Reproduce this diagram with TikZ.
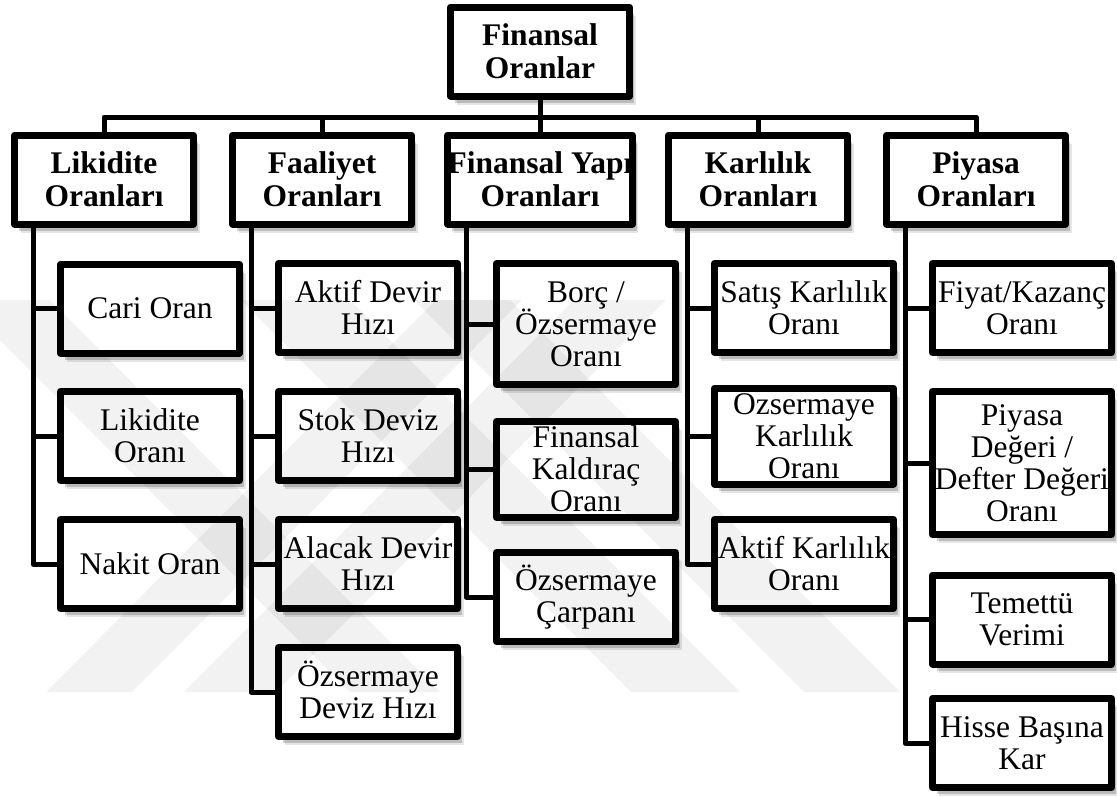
\documentclass[tikz,border=0pt]{standalone}
\usepackage{fontspec}
\setmainfont{Liberation Serif}
\usetikzlibrary{shadows}
% strut fixing the height and depth of the first and last text line
\newcommand{\lineStrut}{\rule[-6pt]{0pt}{32pt}}
\newcommand{\boxtext}[1]{\lineStrut#1\lineStrut}

\begin{document}
\lineskiplimit=-50pt
\begin{tikzpicture}[x=1pt,y=-1pt,
  conn/.style={line width=5pt, line join=round},
  box/.style={fill=white, minimum width=179pt, minimum height=89pt,
    inner sep=0pt, outer sep=0pt, align=center,
    font=\fontsize{31.5}{32}\selectfont,
    drop shadow={shadow xshift=6pt, shadow yshift=-8.5pt, opacity=0.10, fill=black},
    drop shadow={shadow xshift=4.5pt, shadow yshift=-6.5pt, opacity=0.18, fill=black}},
  head/.style={box, font=\fontsize{31.5}{33}\selectfont\bfseries},
  frame/.style={line width=7pt, line join=round},
  mark band/.style={fill=black, opacity=0.05}
]
\fill[white] (0,0) rectangle (1117,796);
\useasboundingbox (0,0) rectangle (1117,796);

% top level and the five groups
\node[head] (root) at (540,51.5) {\boxtext{Finansal\\Oranlar}};
\node[head] (lik) at (104,179.5) {\boxtext{Likidite\\Oranları}};
\node[head] (faa) at (322,179.5) {\boxtext{Faaliyet\\Oranları}};
\node[head] (fy)  at (540,179.5) {\boxtext{Finansal Yapı\\Oranları}};
\node[head] (kar) at (758,179.5) {\boxtext{Karlılık\\Oranları}};
\node[head] (piy) at (976,179.5) {\boxtext{Piyasa\\Oranları}};

% liquidity ratios
\node[box] (cari)  at (150,308.5) {\boxtext{Cari Oran}};
\node[box] (likor) at (150,436) {\boxtext{Likidite\\Oranı}};
\node[box] (nakit) at (150,564) {\boxtext{Nakit Oran}};

% activity ratios
\node[box] (aktif)  at (368,308) {\boxtext{Aktif Devir\\Hızı}};
\node[box] (stok)   at (368,436) {\boxtext{Stok Deviz\\Hızı}};
\node[box] (alacak) at (368,564) {\boxtext{Alacak Devir\\Hızı}};
\node[box] (ozsdev) at (368,692) {\boxtext{Özsermaye\\Deviz Hızı}};

% financial structure ratios
\node[box, minimum height=121pt] (borc) at (586,324) {\boxtext{Borç /\\Özsermaye\\Oranı}};
\node[box] (kald) at (586,469.5) {\boxtext{Finansal\\Kaldıraç\\Oranı}};
\node[box] (carp) at (586,597) {\boxtext{Özsermaye\\Çarpanı}};

% profitability ratios
\node[box] (satis) at (804,308) {\boxtext{Satış Karlılık\\Oranı}};
\node[box] (ozsk)  at (804,436) {\boxtext{Özsermaye\\Karlılık\\Oranı}};
\node[box] (aktk)  at (804,564) {\boxtext{Aktif Karlılık\\Oranı}};

% market ratios
\node[box] (fiyat) at (1022,308) {\boxtext{Fiyat/Kazanç\\Oranı}};
\node[box, minimum height=143pt] (pd) at (1022,463) {\boxtext{Piyasa\\Değeri /\\Defter Değeri\\Oranı}};
\node[box] (tem)   at (1022,619.5) {\boxtext{Temettü\\Verimi}};
\node[box] (hisse) at (1022,743) {\boxtext{Hisse Başına\\Kar}};

% bus joining the groups to the top box
\coordinate (bus) at (0,117);
\draw[conn] (lik.north) |- (bus -| piy.north) -- (piy.north);
\foreach \n in {faa,fy,kar} \draw[conn] (\n.north) -- (\n.north |- bus);
\draw[conn] (root.south) -- (root.south |- bus);

% trunks of each group
\coordinate (likT) at ([xshift=18.5pt]lik.south west);
\coordinate (faaT) at ([xshift=18.5pt]faa.south west);
\coordinate (fyT)  at ([xshift=18.5pt]fy.south west);
\coordinate (karT) at ([xshift=18.5pt]kar.south west);
\coordinate (piyT) at ([xshift=18.5pt]piy.south west);

\draw[conn] (likT) |- (nakit.west);
\foreach \n in {cari,likor} \draw[conn] (\n.west) -- (\n.west -| likT);
\draw[conn] (faaT) |- (ozsdev.west);
\foreach \n in {aktif,stok,alacak} \draw[conn] (\n.west) -- (\n.west -| faaT);
\draw[conn] (fyT) |- (carp.west);
\foreach \n in {borc,kald} \draw[conn] (\n.west) -- (\n.west -| fyT);
\draw[conn] (karT) |- (aktk.west);
\foreach \n in {satis,ozsk} \draw[conn] (\n.west) -- (\n.west -| karT);
\draw[conn] (piyT) |- (hisse.west);
\foreach \n in {fiyat,pd,tem} \draw[conn] (\n.west) -- (\n.west -| piyT);

% box frames drawn last, over any overflowing text
\foreach \n in {root,lik,faa,fy,kar,piy,cari,likor,nakit,aktif,stok,alacak,ozsdev,
                borc,kald,carp,satis,ozsk,aktk,fiyat,pd,tem,hisse}
  \draw[frame] (\n.south west) rectangle (\n.north east);

% faint background mark: crossing diagonal bands
\fill[mark band] (46,692) -- (132,692) -- (522,300) -- (436,300) -- cycle;
\fill[mark band] (184,692) -- (276,692) -- (666,300) -- (574,300) -- cycle;
\fill[mark band] (-40,300) -- (50,300) -- (440,692) -- (350,692) -- cycle;
\fill[mark band] (241,300) -- (350,300) -- (740,692) -- (631,692) -- cycle;
\fill[mark band] (414,300) -- (510,300) -- (900,692) -- (804,692) -- cycle;
\end{tikzpicture}
\end{document}
